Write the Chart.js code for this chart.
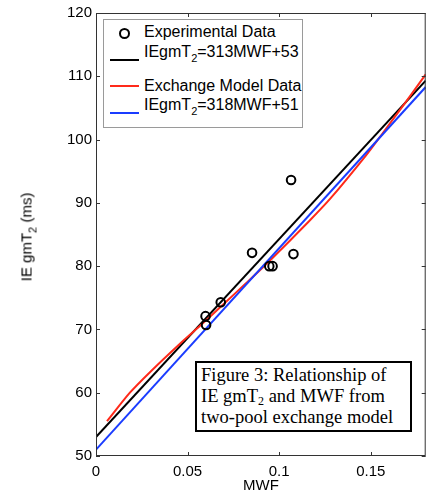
<!DOCTYPE html>
<html>
<head>
<meta charset="utf-8">
<script src="https://cdn.jsdelivr.net/npm/chart.js@4.4.1/dist/chart.umd.min.js"></script>
<style>
  html, body { margin: 0; padding: 0; background: #fff; overflow: hidden; }
  #wrap { position: relative; width: 440px; height: 494px; overflow: hidden; }
  canvas { position: absolute; left: 0; top: 0; }
  .sans { font-family: "Liberation Sans", Arial, Helvetica, sans-serif; color: #000; }
  #ytitle { position: absolute; left: 26px; top: 237px; transform: translate(-50%, -50%) rotate(-90deg);
            font-size: 15px; white-space: nowrap; line-height: 17px; }
  #xtitle { position: absolute; left: 261px; top: 484px; transform: translate(-50%, -50%);
            font-size: 15px; line-height: 17px; }
  sub { font-size: 11px; vertical-align: -5px; line-height: 0; }
  #legend { position: absolute; left: 103px; top: 19px; width: 200px; height: 109px; box-sizing: border-box;
            border: 1px solid #9a9a9a; background: #fff; }
  .lt { position: absolute; left: 40px; font-size: 16px; line-height: 18px; white-space: nowrap; }
  .ll { position: absolute; left: 6px; width: 29px; height: 2px; }
  .mk { position: absolute; left: 15px; top: 8px; width: 7px; height: 7px; border: 2px solid #000; border-radius: 50%; }
  #caption { position: absolute; left: 195px; top: 361px; width: 217px; height: 71px; box-sizing: border-box;
             border: 2px solid #000; background: #fff;
             font-family: "Liberation Serif", "Times New Roman", serif; font-size: 18.5px; line-height: 21px;
             padding: 2px 0 0 4px; white-space: nowrap; color: #000; }
  #caption sub { font-size: 12px; vertical-align: -3px; }
</style>
</head>
<body>
<div id="wrap">
  <canvas id="c" width="427" height="494"></canvas>
  <div id="ytitle" class="sans">IE gmT<sub>2</sub> (ms)</div>
  <div id="xtitle" class="sans">MWF</div>
  <div id="legend" class="sans">
    <div class="mk"></div>
    <div class="lt" style="top:3px;">Experimental Data</div>
    <div class="ll" style="top:39px;background:#000;"></div>
    <div class="lt" style="top:23px;">IEgmT<sub>2</sub>=313MWF+53</div>
    <div class="ll" style="top:65px;background:#ff2a1a;"></div>
    <div class="lt" style="top:57px;">Exchange Model Data</div>
    <div class="ll" style="top:92px;background:#1a3cff;"></div>
    <div class="lt" style="top:76px;">IEgmT<sub>2</sub>=318MWF+51</div>
  </div>
  <div id="caption">Figure 3: Relationship of<br>IE gmT<sub>2</sub> and MWF from<br>two-pool exchange model</div>
</div>
<script>
// ---- data ----
const expMWF = [0.0598, 0.0601, 0.0681, 0.0852, 0.0946, 0.0964, 0.1065, 0.1078];
const expT2  = [72.1, 70.7, 74.3, 82.1, 80.0, 80.0, 93.6, 81.9];

const modelMWF = [0.006, 0.0185, 0.03, 0.0457, 0.0565, 0.07, 0.0819, 0.095, 0.1163, 0.128, 0.1471, 0.157, 0.1688, 0.18];
const modelT2  = [55.5, 60.0, 63.4, 67.7, 70.5, 74.1, 77.3, 80.9, 87.1, 90.7, 97.4, 101.2, 105.8, 110.3];

const fit1MWF = [0, 0.18];
const fit1T2  = [53, 109.3];   // IEgmT2 = 313 MWF + 53
const fit2MWF = [0, 0.18];
const fit2T2  = [51, 108.3];   // IEgmT2 = 318 MWF + 51

const xTickVals = [0, 0.05, 0.1, 0.15];
const xTickLabels = ['0', '0.05', '0.1', '0.15'];
const yTickVals = [50, 60, 70, 80, 90, 100, 110, 120];
const yTickLabels = ['50', '60', '70', '80', '90', '100', '110', '120'];

const pts = (xs, ys) => xs.map((x, i) => ({ x: x, y: ys[i] }));

const framePlugin = {
  id: 'frame',
  afterDatasetsDraw(chart) {
    const { ctx, chartArea: a, scales } = chart;
    ctx.save();
    ctx.strokeStyle = '#333';
    ctx.lineWidth = 1;
    ctx.strokeRect(a.left + 0.5, a.top + 0.5, a.right - a.left - 1, a.bottom - a.top - 1);
    const L = 4;
    ctx.beginPath();
    xTickVals.forEach(v => {
      const px = Math.round(scales.x.getPixelForValue(v)) + 0.5;
      ctx.moveTo(px, a.bottom); ctx.lineTo(px, a.bottom - L);
      ctx.moveTo(px, a.top); ctx.lineTo(px, a.top + L);
    });
    yTickVals.forEach(v => {
      const py = Math.round(scales.y.getPixelForValue(v)) + 0.5;
      ctx.moveTo(a.left, py); ctx.lineTo(a.left + L, py);
      ctx.moveTo(a.right, py); ctx.lineTo(a.right - L, py);
    });
    ctx.stroke();
    ctx.restore();
  }
};

const tickFont = { family: '"Liberation Sans", Arial, Helvetica, sans-serif', size: 15 };

function makeChart() {
  return new Chart(document.getElementById('c'), {
    type: 'scatter',
    data: {
      datasets: [
        { label: 'Experimental Data', data: pts(expMWF, expT2), showLine: false,
          pointRadius: 4.3, pointBorderWidth: 2, pointBorderColor: '#000', pointBackgroundColor: 'rgba(0,0,0,0)', order: 0 },
        { label: 'IEgmT2=313MWF+53', data: pts(fit1MWF, fit1T2), showLine: true, pointRadius: 0,
          borderColor: '#000', borderWidth: 2, order: 3 },
        { label: 'Exchange Model Data', data: pts(modelMWF, modelT2), showLine: true, pointRadius: 0,
          borderColor: '#ff2a1a', borderWidth: 2, tension: 0.25, order: 2 },
        { label: 'IEgmT2=318MWF+51', data: pts(fit2MWF, fit2T2), showLine: true, pointRadius: 0,
          borderColor: '#1a3cff', borderWidth: 2, order: 1 }
      ]
    },
    options: {
      responsive: false,
      animation: false,
      devicePixelRatio: 1,
      layout: { padding: { top: 13, right: 1, left: 0, bottom: 0 } },
      plugins: { legend: { display: false }, tooltip: { enabled: false } },
      scales: {
        x: {
          type: 'linear', min: 0, max: 0.18,
          grid: { display: false, drawTicks: false, tickLength: 0 },
          border: { display: false },
          afterBuildTicks: s => { s.ticks = xTickVals.map(v => ({ value: v })); },
          afterFit: s => { s.height = 38; s.paddingLeft = 0; s.paddingRight = 0; },
          ticks: { font: tickFont, color: '#000', padding: 7, maxRotation: 0, autoSkip: false,
                   callback: (v) => xTickLabels[xTickVals.indexOf(v)] }
        },
        y: {
          type: 'linear', min: 50, max: 120,
          grid: { display: false, drawTicks: false, tickLength: 0 },
          border: { display: false },
          afterBuildTicks: s => { s.ticks = yTickVals.map(v => ({ value: v })); },
          afterFit: s => { s.width = 96; s.paddingTop = 0; s.paddingBottom = 0; },
          ticks: { font: tickFont, color: '#000', padding: 4, autoSkip: false,
                   callback: (v) => yTickLabels[yTickVals.indexOf(v)] }
        }
      }
    },
    plugins: [framePlugin]
  });
}

// keep the plot frame flush with the window's right edge (as in the reference):
// widen the canvas by the extra right gap Chart.js reserves (the overflow is clipped by the window)
let chart = makeChart();
for (let i = 0; i < 3; i++) {
  const diff = 426 - chart.chartArea.right;
  if (Math.abs(diff) < 0.3) break;
  const cv = document.getElementById('c');
  const w = Math.round(cv.width + diff);
  chart.destroy();
  cv.width = w; cv.height = 494;
  cv.style.width = w + 'px'; cv.style.height = '494px';
  chart = makeChart();
}
</script>
</body>
</html>
